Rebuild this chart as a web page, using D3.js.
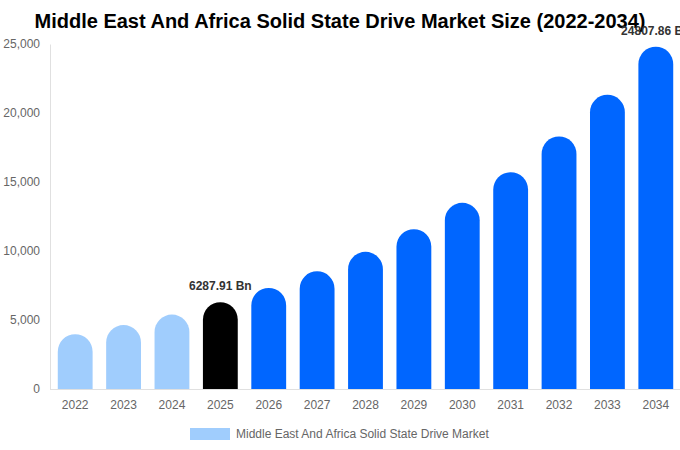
<!DOCTYPE html>
<html>
<head>
<meta charset="utf-8">
<script src="https://cdn.jsdelivr.net/npm/d3@7"></script>
<style>
  body { margin: 0; background: #fff; }
  svg { display: block; font-family: "Liberation Sans", Arial, sans-serif; }
</style>
</head>
<body>
<svg></svg>
<script>
const years = ['2022', '2023', '2024', '2025', '2026', '2027', '2028', '2029', '2030', '2031', '2032', '2033', '2034'];
const values = [3970, 4630, 5390, 6287.91, 7320, 8530, 9940, 11580, 13490, 15710, 18300, 21320, 24807.86];
const yTicks = [0, 5000, 10000, 15000, 20000, 25000];
const labelled = ['2025', '2034'];
const seriesName = 'Middle East And Africa Solid State Drive Market';

const width = 680;
const height = 450;
const margin = { top: 44, right: 0, bottom: 61, left: 51 };

const svg = d3.select('svg')
    .attr('width', width)
    .attr('height', height);

const x = d3.scaleBand()
    .domain(years)
    .range([margin.left, width - margin.right])
    .paddingInner(0.28)
    .paddingOuter(0.14);

const y = d3.scaleLinear()
    .domain([0, 25000])
    .range([height - margin.bottom, margin.top]);

function barColor(yr) {
    if (+yr < 2025) return '#a0cdfd';
    if (+yr === 2025) return '#000000';
    return '#0066ff';
}

// rounded top bar
function barPath(yr, v) {
    const x0 = x(yr);
    const w = x.bandwidth();
    const r = w / 2;
    const y0 = y(0);
    const y1 = y(v);
    return `M${x0},${y0} L${x0},${y1 + r} A${r},${r} 0 0 1 ${x0 + w},${y1 + r} L${x0 + w},${y0} Z`;
}

// title
svg.append('text')
    .attr('x', width / 2)
    .attr('y', 28)
    .attr('text-anchor', 'middle')
    .style('font-size', '20px')
    .style('font-weight', 'bold')
    .style('fill', '#000')
    .text('Middle East And Africa Solid State Drive Market Size (2022-2034)');

// y axis
const yAxis = svg.append('g')
    .attr('transform', `translate(${margin.left - 1},0)`)
    .call(d3.axisLeft(y).tickValues(yTicks).tickSize(0).tickPadding(10).tickFormat(d3.format(',')));
yAxis.select('.domain').attr('stroke', '#e0e0e0');
yAxis.selectAll('text').style('font-size', '12px').style('fill', '#666').style('font-family', '"Liberation Sans", Arial, sans-serif');

// bars
svg.selectAll('path.bar')
    .data(years)
    .enter()
    .append('path')
    .attr('class', 'bar')
    .attr('d', (d, i) => barPath(d, values[i]))
    .attr('fill', (d) => barColor(d));

// x axis
const xAxis = svg.append('g')
    .attr('transform', `translate(0,${y(0)})`)
    .call(d3.axisBottom(x).tickSize(0).tickPadding(11));
xAxis.select('.domain').attr('stroke', '#e0e0e0').attr('d', `M${margin.left - 1},0.5H${width}`);
xAxis.selectAll('text').style('font-size', '12px').style('fill', '#666').style('font-family', '"Liberation Sans", Arial, sans-serif');

// value labels
svg.selectAll('text.val')
    .data(years.filter((d) => labelled.includes(d)))
    .enter()
    .append('text')
    .attr('class', 'val')
    .attr('x', (d) => x(d) + x.bandwidth() / 2)
    .attr('y', (d) => y(values[years.indexOf(d)]) - 12)
    .attr('text-anchor', 'middle')
    .style('font-size', '12px')
    .style('font-weight', 'bold')
    .style('fill', '#333')
    .text((d) => values[years.indexOf(d)].toFixed(2) + ' Bn');

// legend
const legend = svg.append('g');
legend.append('rect')
    .attr('x', 190)
    .attr('y', 428)
    .attr('width', 40)
    .attr('height', 12)
    .attr('fill', '#a0cdfd');
legend.append('text')
    .attr('x', 236)
    .attr('y', 437.5)
    .style('font-size', '12px')
    .style('fill', '#666')
    .text(seriesName);
</script>
</body>
</html>
